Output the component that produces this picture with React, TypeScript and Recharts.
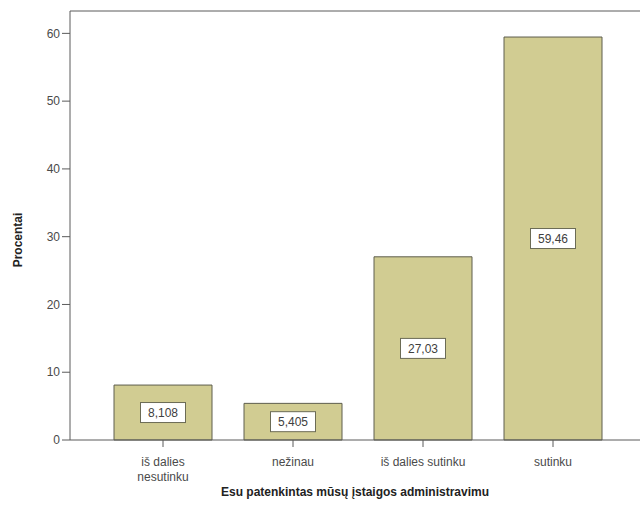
import { BarChart, Bar, XAxis, YAxis, ReferenceLine, Label, LabelList } from 'recharts'

// Esu patenkintas mūsų įstaigos administravimu — procentai
const categories = ['iš dalies\nnesutinku', 'nežinau', 'iš dalies sutinku', 'sutinku']
const percents = [8.108, 5.405, 27.03, 59.46]
const valueLabels = ['8,108', '5,405', '27,03', '59,46']
const yTicks = [0, 10, 20, 30, 40, 50, 60]

const data = categories.map((c, i) => ({ cat: c, pct: percents[i], lbl: valueLabels[i] }))

const FONT = 'Arial, "Liberation Sans", sans-serif'
const AXIS = '#5a5a5a'

const XTick = (props: any) => {
  const { x, y, payload } = props
  const lines = String(payload.value).split('\n')
  return (
    <g>
      {lines.map((ln, i) => (
        <text key={i} x={x} y={y + 17 + i * 15} textAnchor="middle" fontSize={12} fill="#4a4a4a" fontFamily={FONT}>
          {ln}
        </text>
      ))}
    </g>
  )
}

const ValueBox = (props: any) => {
  const { x, y, width, height, value } = props
  const cx = x + width / 2
  const cy = y + height / 2
  const w = value.length * 7 + 10
  return (
    <g>
      <rect x={cx - w / 2} y={cy - 10} width={w} height={20} fill="#fff" stroke="#6b6b55" strokeWidth={1} />
      <text x={cx} y={cy + 4.5} textAnchor="middle" fontSize={12} fill="#404040" fontFamily={FONT}>
        {value}
      </text>
    </g>
  )
}

export default function App() {
  return (
    <div style={{ position: 'absolute', left: 0, top: 0, width: 640, height: 518, background: '#fff' }}>
      <BarChart width={640} height={518} data={data} margin={{ top: 11, right: 0, bottom: 0, left: 0 }}>
        <ReferenceLine y={63.3} stroke={AXIS} strokeWidth={1} ifOverflow="extendDomain" />
        <XAxis
          dataKey="cat"
          height={78}
          padding={{ left: 28, right: 22 }}
          stroke={AXIS}
          tickSize={7}
          tickLine={{ stroke: AXIS }}
          tick={<XTick />}
          interval={0}
        >
          <Label
            content={() => (
              <text x={355} y={496} textAnchor="middle" fontSize={12} fontWeight="bold" fill="#222" fontFamily={FONT}>
                Esu patenkintas mūsų įstaigos administravimu
              </text>
            )}
          />
        </XAxis>
        <YAxis
          width={70}
          domain={[0, 63.3]}
          ticks={yTicks}
          stroke={AXIS}
          tickSize={8}
          tick={{ fontSize: 12, fill: '#4a4a4a', fontFamily: FONT }}
        >
          <Label
            content={() => (
              <text
                x={22}
                y={240}
                textAnchor="middle"
                fontSize={12}
                fontWeight="bold"
                fill="#222"
                fontFamily={FONT}
                transform="rotate(-90 22 240)"
              >
                Procentai
              </text>
            )}
          />
        </YAxis>
        <Bar dataKey="pct" fill="#d1cc92" stroke="#5e5e4e" strokeWidth={1} barSize={98} isAnimationActive={false}>
          <LabelList dataKey="lbl" content={<ValueBox />} />
        </Bar>
      </BarChart>
    </div>
  )
}
